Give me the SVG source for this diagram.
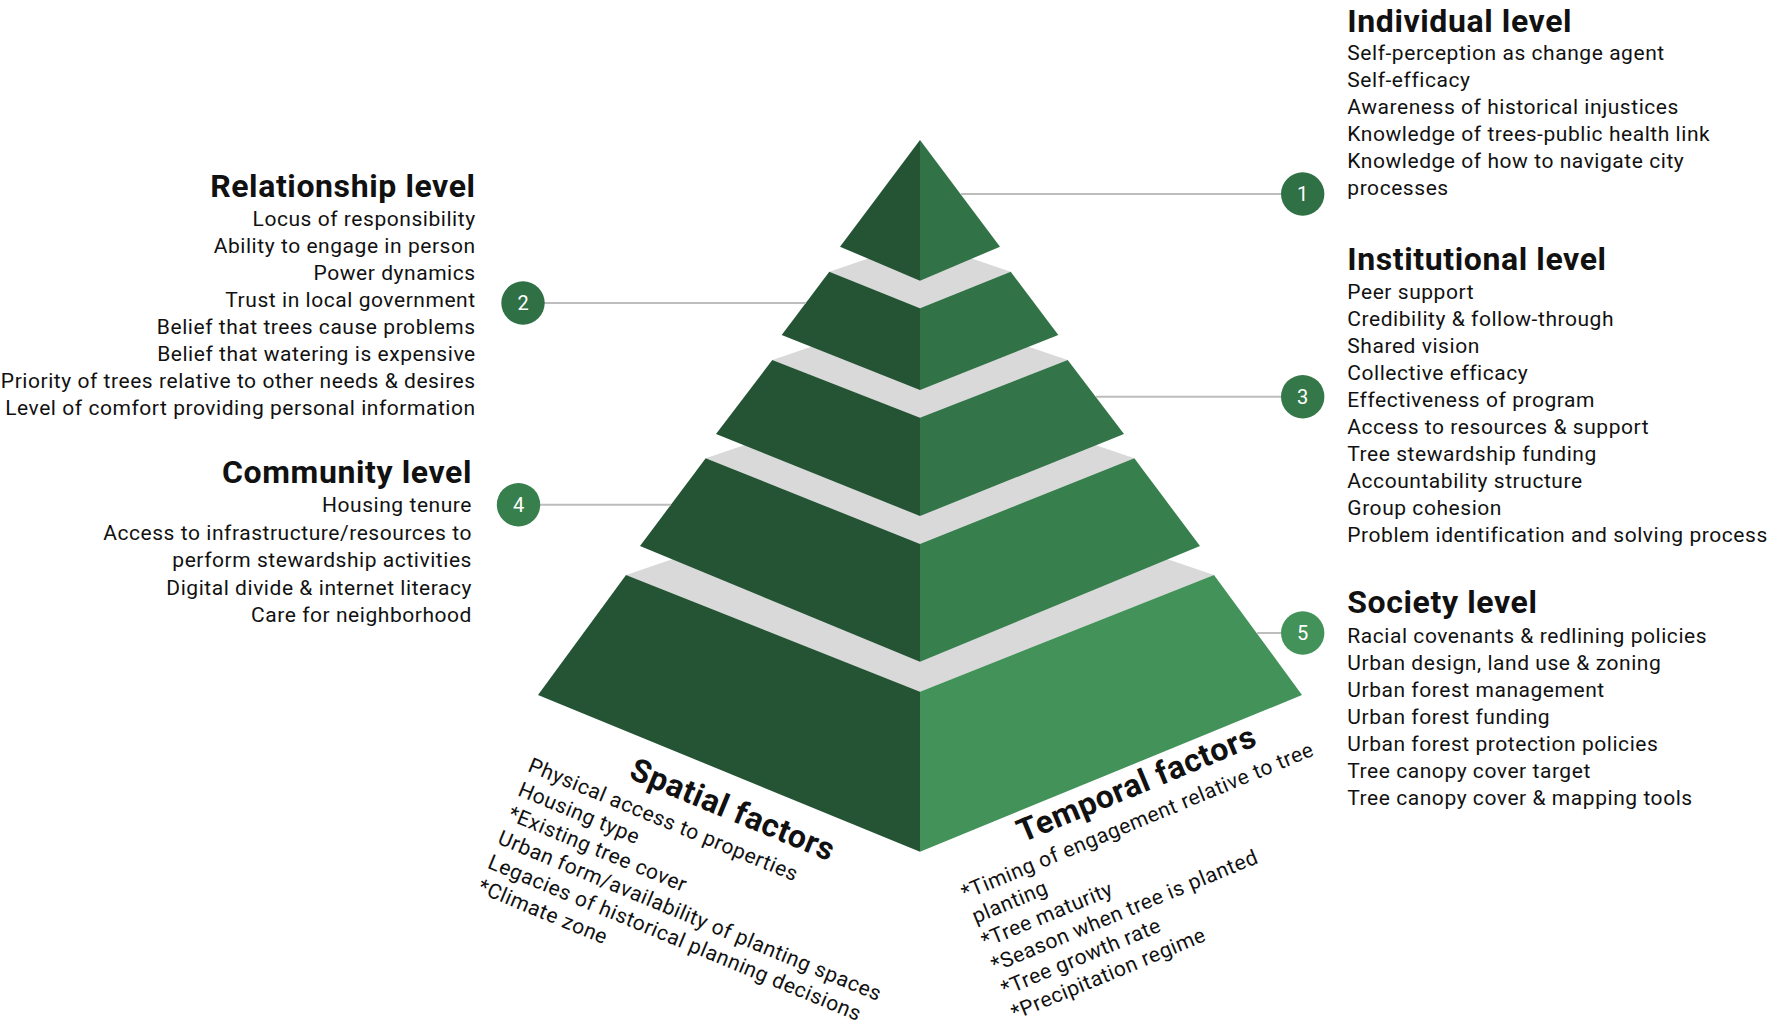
<svg xmlns="http://www.w3.org/2000/svg" width="1772" height="1035" viewBox="0 0 1772 1035">
<style>
.h{font-family:Roboto,"Liberation Sans",sans-serif;font-weight:700;font-size:32px;letter-spacing:0.6px;fill:#111}
.b{font-family:Roboto,"Liberation Sans",sans-serif;font-size:21px;letter-spacing:0.55px;fill:#111}
.r{text-anchor:end}
.num{font-family:Roboto,"Liberation Sans",sans-serif;font-size:20px;fill:#fff;text-anchor:middle}
.grey{fill:#d9d9d9}
.dk{fill:#245434}
.ln{stroke:#bdbdbd;stroke-width:2;fill:none}
</style>
<rect width="1772" height="1035" fill="#fff"/>
<g id="pyramid">
  <g id="tier5">
    <polygon class="grey" points="626,575 920,475 1214,575 920,691.7"/>
    <polygon class="dk" points="626,575 920,691.7 920,851.7 538,695"/>
    <polygon fill="#43925a" points="920,691.7 1214,575 1302,695 920,851.7"/>
  </g>
  <g id="tier4">
    <polygon class="grey" points="705.7,458.3 920,385.4 1134.3,458.3 920,544"/>
    <polygon class="dk" points="705.7,458.3 920,544 920,661.7 640,546"/>
    <polygon fill="#387f4e" points="920,544 1134.3,458.3 1200,546 920,661.7"/>
  </g>
  <g id="tier3">
    <polygon class="grey" points="772.3,360 920,309.8 1067.7,360 920,417.7"/>
    <polygon class="dk" points="772.3,360 920,417.7 920,516 716,434"/>
    <polygon fill="#337548" points="920,417.7 1067.7,360 1124,434 920,516"/>
  </g>
  <g id="tier2">
    <polygon class="grey" points="829.3,271.7 920,240.9 1010.7,271.7 920,308.3"/>
    <polygon class="dk" points="829.3,271.7 920,308.3 920,390 781.7,335"/>
    <polygon fill="#317246" points="920,308.3 1010.7,271.7 1058.3,335 920,390"/>
  </g>
  <g id="tier1">
    <polygon class="dk" points="920,140 840,246.7 920,280.7"/>
    <polygon fill="#317246" points="920,140 1000,246.7 920,280.7"/>
  </g>
</g>
<g id="connectors">
  <line class="ln" x1="961" y1="194" x2="1281" y2="194"/>
  <line class="ln" x1="544" y1="303" x2="806" y2="303"/>
  <line class="ln" x1="1096" y1="396.7" x2="1281" y2="396.7"/>
  <line class="ln" x1="540" y1="504.7" x2="671" y2="504.7"/>
  <line class="ln" x1="1257" y1="633" x2="1281" y2="633"/>
</g>
<g id="badge1"><circle cx="1302.7" cy="194" r="21.7" fill="#2f7045"/><text class="num" x="1302.7" y="201">1</text></g>
<g id="badge2"><circle cx="523" cy="303" r="21.7" fill="#2f7045"/><text class="num" x="523" y="310">2</text></g>
<g id="badge3"><circle cx="1302.7" cy="396.7" r="21.7" fill="#347849"/><text class="num" x="1302.7" y="403.7">3</text></g>
<g id="badge4"><circle cx="518.5" cy="504.7" r="21.7" fill="#387f4e"/><text class="num" x="518.5" y="511.7">4</text></g>
<g id="badge5"><circle cx="1302.7" cy="633" r="21.7" fill="#43925a"/><text class="num" x="1302.7" y="640">5</text></g>
<g id="individual">
  <text class="h" x="1347.3" y="31.7">Individual level</text>
  <text class="b" x="1347.3" y="60">Self-perception as change agent</text>
  <text class="b" x="1347.3" y="87">Self-efficacy</text>
  <text class="b" x="1347.3" y="114">Awareness of historical injustices</text>
  <text class="b" x="1347.3" y="141">Knowledge of trees-public health link</text>
  <text class="b" x="1347.3" y="168">Knowledge of how to navigate city</text>
  <text class="b" x="1347.3" y="195">processes</text>
</g>
<g id="institutional">
  <text class="h" x="1347.3" y="270">Institutional level</text>
  <text class="b" x="1347.3" y="299.3">Peer support</text>
  <text class="b" x="1347.3" y="326.3">Credibility &amp; follow-through</text>
  <text class="b" x="1347.3" y="353.3">Shared vision</text>
  <text class="b" x="1347.3" y="380.3">Collective efficacy</text>
  <text class="b" x="1347.3" y="407.3">Effectiveness of program</text>
  <text class="b" x="1347.3" y="434.3">Access to resources &amp; support</text>
  <text class="b" x="1347.3" y="461.3">Tree stewardship funding</text>
  <text class="b" x="1347.3" y="488.3">Accountability structure</text>
  <text class="b" x="1347.3" y="515.3">Group cohesion</text>
  <text class="b" x="1347.3" y="542.3">Problem identification and solving process</text>
</g>
<g id="society">
  <text class="h" x="1347.3" y="613.3">Society level</text>
  <text class="b" x="1347.3" y="642.7">Racial covenants &amp; redlining policies</text>
  <text class="b" x="1347.3" y="669.7">Urban design, land use &amp; zoning</text>
  <text class="b" x="1347.3" y="696.7">Urban forest management</text>
  <text class="b" x="1347.3" y="723.7">Urban forest funding</text>
  <text class="b" x="1347.3" y="750.7">Urban forest protection policies</text>
  <text class="b" x="1347.3" y="777.7">Tree canopy cover target</text>
  <text class="b" x="1347.3" y="804.7">Tree canopy cover &amp; mapping tools</text>
</g>
<g id="relationship">
  <text class="h r" x="475.7" y="196.7">Relationship level</text>
  <text class="b r" x="475.7" y="225.7">Locus of responsibility</text>
  <text class="b r" x="475.7" y="252.7">Ability to engage in person</text>
  <text class="b r" x="475.7" y="279.7">Power dynamics</text>
  <text class="b r" x="475.7" y="306.7">Trust in local government</text>
  <text class="b r" x="475.7" y="333.7">Belief that trees cause problems</text>
  <text class="b r" x="475.7" y="360.7">Belief that watering is expensive</text>
  <text class="b r" x="475.7" y="387.7">Priority of trees relative to other needs &amp; desires</text>
  <text class="b r" x="475.7" y="414.7">Level of comfort providing personal information</text>
</g>
<g id="community">
  <text class="h r" x="472" y="483.3">Community level</text>
  <text class="b r" x="472" y="512">Housing tenure</text>
  <text class="b r" x="472" y="539.5">Access to infrastructure/resources to</text>
  <text class="b r" x="472" y="567">perform stewardship activities</text>
  <text class="b r" x="472" y="594.5">Digital divide &amp; internet literacy</text>
  <text class="b r" x="472" y="622">Care for neighborhood</text>
</g>
<g id="spatial" transform="translate(526.7,770.7) rotate(22.5)">
  <text class="h" x="96" y="-32">Spatial factors</text>
  <text class="b" x="0" y="0">Physical access to properties</text>
  <text class="b" x="0" y="26.2">Housing type</text>
  <text class="b" x="0" y="52.4">*Existing tree cover</text>
  <text class="b" x="0" y="78.6">Urban form/availability of planting spaces</text>
  <text class="b" x="0" y="104.8">Legacies of historical planning decisions</text>
  <text class="b" x="0" y="131">*Climate zone</text>
</g>
<g id="temporal" transform="translate(965,900) rotate(-22.5)">
  <text class="h" x="75" y="-31">Temporal factors</text>
  <text class="b" x="0" y="0">*Timing of engagement relative to tree</text>
  <text class="b" x="1" y="26">planting</text>
  <text class="b" x="0" y="52">*Tree maturity</text>
  <text class="b" x="0" y="78">*Season when tree is planted</text>
  <text class="b" x="0" y="104">*Tree growth rate</text>
  <text class="b" x="0" y="130">*Precipitation regime</text>
</g>
</svg>
